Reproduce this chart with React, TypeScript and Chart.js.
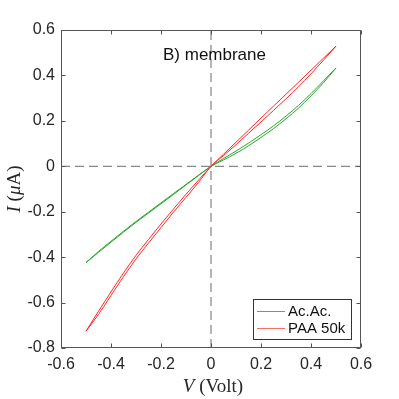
import React, { useEffect, useRef } from 'react';
import { Chart, registerables } from 'chart.js';

Chart.register(...registerables);

// ---- data ----
const V_VALUES = [-0.5, -0.45, -0.4, -0.35, -0.3, -0.25, -0.2, -0.15, -0.1, -0.05, 0,
  0.05, 0.1, 0.15, 0.2, 0.25, 0.3, 0.35, 0.4, 0.45, 0.5];
const GREEN_UP = [-0.424, -0.375, -0.33, -0.286, -0.243, -0.202, -0.161, -0.12, -0.08, -0.039, 0,
  0.034, 0.067, 0.102, 0.139, 0.178, 0.221, 0.268, 0.32, 0.376, 0.433];
const GREEN_DOWN = [-0.424, -0.379, -0.334, -0.29, -0.247, -0.206, -0.165, -0.124, -0.082, -0.041, 0,
  0.028, 0.057, 0.09, 0.127, 0.166, 0.209, 0.256, 0.31, 0.368, 0.433];
const RED_UP = [-0.726, -0.638, -0.553, -0.47, -0.392, -0.322, -0.254, -0.188, -0.123, -0.061, 0,
  0.053, 0.106, 0.159, 0.212, 0.265, 0.317, 0.37, 0.423, 0.476, 0.529];
const RED_DOWN = [-0.726, -0.652, -0.569, -0.486, -0.408, -0.338, -0.27, -0.202, -0.137, -0.071, 0,
  0.047, 0.095, 0.145, 0.195, 0.246, 0.297, 0.35, 0.407, 0.467, 0.529];

const X_TICKS = [-0.6, -0.4, -0.2, 0, 0.2, 0.4, 0.6];
const X_TICK_LABELS = ['-0.6', '-0.4', '-0.2', '0', '0.2', '0.4', '0.6'];
const Y_TICKS = [-0.8, -0.6, -0.4, -0.2, 0, 0.2, 0.4, 0.6];
const Y_TICK_LABELS = ['-0.8', '-0.6', '-0.4', '-0.2', '0', '0.2', '0.4', '0.6'];

const SERIES_NAMES = ['Ac.Ac.', 'PAA 50k'];
const SERIES_COLORS = ['#2aa52a', '#ff2626'];
const LEGEND_COLORS = ['#3cbf3c', '#ff6a6a'];
const PANEL_TITLE = 'B) membrane';

const X_RANGE = [-0.6, 0.6];
const Y_RANGE = [-0.8, 0.6];

const AXIS_COLOR = '#555555';
const TEXT_COLOR = '#262626';
const SANS = '"Liberation Sans", Arial, sans-serif';
const SERIF = '"Liberation Serif", "Times New Roman", serif';

const pts = (xs: number[], ys: number[]) => xs.map((x, i) => ({ x, y: ys[i] }));

const decorPlugin = {
  id: 'decor',
  afterDraw(chart: any) {
    const ctx = chart.ctx as CanvasRenderingContext2D;
    const { left, right, top, bottom } = chart.chartArea;
    const xs = chart.scales.x;
    const ys = chart.scales.y;
    const L = Math.round(left) + 0.5;
    const R = Math.round(right) - 0.5;
    const T = Math.round(top) + 0.5;
    const B = Math.round(bottom) - 0.5;
    ctx.save();
    ctx.strokeStyle = AXIS_COLOR;
    ctx.lineWidth = 1;
    ctx.setLineDash([]);
    ctx.strokeRect(L, T, R - L, B - T);
    const tl = 4;
    ctx.beginPath();
    X_TICKS.forEach((v) => {
      const px = Math.round(xs.getPixelForValue(v)) + 0.5;
      ctx.moveTo(px, B);
      ctx.lineTo(px, B - tl);
      ctx.moveTo(px, T);
      ctx.lineTo(px, T + tl);
    });
    Y_TICKS.forEach((v) => {
      const py = Math.round(ys.getPixelForValue(v)) + 0.5;
      ctx.moveTo(L, py);
      ctx.lineTo(L + tl, py);
      ctx.moveTo(R, py);
      ctx.lineTo(R - tl, py);
    });
    ctx.stroke();

    // panel title
    ctx.fillStyle = '#111111';
    ctx.font = `17px ${SANS}`;
    ctx.textAlign = 'left';
    ctx.textBaseline = 'alphabetic';
    ctx.fillText(PANEL_TITLE, 163, 59.5);

    // legend
    const lx = 253.5, ly = 299.5, lw = 98, lh = 40;
    ctx.fillStyle = '#ffffff';
    ctx.fillRect(lx, ly, lw, lh);
    ctx.strokeStyle = '#333333';
    ctx.strokeRect(lx, ly, lw, lh);
    ctx.font = `15px ${SANS}`;
    ctx.textBaseline = 'middle';
    SERIES_NAMES.forEach((name, i) => {
      const y = 311 + i * 17;
      ctx.strokeStyle = LEGEND_COLORS[i];
      ctx.lineWidth = 1;
      ctx.beginPath();
      ctx.moveTo(257, y + 0.5);
      ctx.lineTo(285, y + 0.5);
      ctx.stroke();
      ctx.fillStyle = '#111111';
      ctx.fillText(name, 288, y + 1);
    });

    // axis labels with mixed italic
    const drawMixed = (parts: [string, boolean][], cx: number, baseline: number) => {
      let total = 0;
      const widths = parts.map(([t, it]) => {
        ctx.font = `${it ? 'italic ' : ''}19px ${SERIF}`;
        const w = ctx.measureText(t).width;
        total += w;
        return w;
      });
      let x = cx - total / 2;
      ctx.textAlign = 'left';
      ctx.textBaseline = 'alphabetic';
      ctx.fillStyle = TEXT_COLOR;
      parts.forEach(([t, it], i) => {
        ctx.font = `${it ? 'italic ' : ''}19px ${SERIF}`;
        ctx.fillText(t, x, baseline);
        x += widths[i];
      });
    };
    drawMixed([['V', true], [' (Volt)', false]], 213, 391.5);
    ctx.save();
    ctx.translate(19.5, 189);
    ctx.rotate(-Math.PI / 2);
    drawMixed([['I', true], [' (', false], ['μ', true], ['A)', false]], 0, 0);
    ctx.restore();
    ctx.restore();
  },
};

export default function App() {
  const ref = useRef<HTMLCanvasElement | null>(null);
  useEffect(() => {
    if (!ref.current) return;
    const lineDs = (data: any, color: string) => ({
      data,
      borderColor: color,
      backgroundColor: color,
      borderWidth: 1,
      pointRadius: 0,
      showLine: true,
      cubicInterpolationMode: 'monotone',
      fill: false,
    });
    const chart = new Chart(ref.current, {
      type: 'scatter',
      data: {
        datasets: [
          lineDs(pts(V_VALUES, RED_UP), SERIES_COLORS[1]),
          lineDs(pts(V_VALUES, RED_DOWN), SERIES_COLORS[1]),
          lineDs(pts(V_VALUES, GREEN_UP), SERIES_COLORS[0]),
          lineDs(pts(V_VALUES, GREEN_DOWN), SERIES_COLORS[0]),
          {
            data: [{ x: X_RANGE[0], y: 0 }, { x: X_RANGE[1], y: 0 }],
            borderColor: '#6a6a6a',
            borderWidth: 1,
            borderDash: [9, 5],
            pointRadius: 0,
            showLine: true,
          },
          {
            data: [{ x: 0, y: Y_RANGE[0] }, { x: 0, y: Y_RANGE[1] }],
            borderColor: '#6a6a6a',
            borderWidth: 1,
            borderDash: [9, 5],
            pointRadius: 0,
            showLine: true,
          },
        ],
      },
      options: {
        responsive: false,
        animation: false,
        devicePixelRatio: 1,
        layout: { padding: { left: 0, top: 30, right: 38, bottom: 0 } },
        plugins: { legend: { display: false }, tooltip: { enabled: false } },
        scales: {
          x: {
            type: 'linear',
            min: X_RANGE[0],
            max: X_RANGE[1],
            afterBuildTicks: (s: any) => { s.ticks = X_TICKS.map((value) => ({ value })); },
            afterFit: (s: any) => { s.height = 51; },
            grid: { display: false, drawTicks: false },
            border: { display: false },
            ticks: {
              padding: 7,
              color: TEXT_COLOR,
              font: { family: SANS, size: 16 },
              maxRotation: 0,
              autoSkip: false,
              callback: (_v: any, i: number) => X_TICK_LABELS[i],
            },
          },
          y: {
            type: 'linear',
            min: Y_RANGE[0],
            max: Y_RANGE[1],
            afterBuildTicks: (s: any) => { s.ticks = Y_TICKS.map((value) => ({ value })); },
            afterFit: (s: any) => { s.width = 61; },
            grid: { display: false, drawTicks: false },
            border: { display: false },
            ticks: {
              padding: 6,
              color: TEXT_COLOR,
              font: { family: SANS, size: 16 },
              autoSkip: false,
              callback: (_v: any, i: number) => Y_TICK_LABELS[i],
            },
          },
        },
      },
      plugins: [decorPlugin],
    } as any);
    return () => chart.destroy();
  }, []);
  return (
    <div style={{ position: 'absolute', left: 0, top: 0, width: 399, height: 399, background: '#fff' }}>
      <canvas ref={ref} width={399} height={399} />
    </div>
  );
}
